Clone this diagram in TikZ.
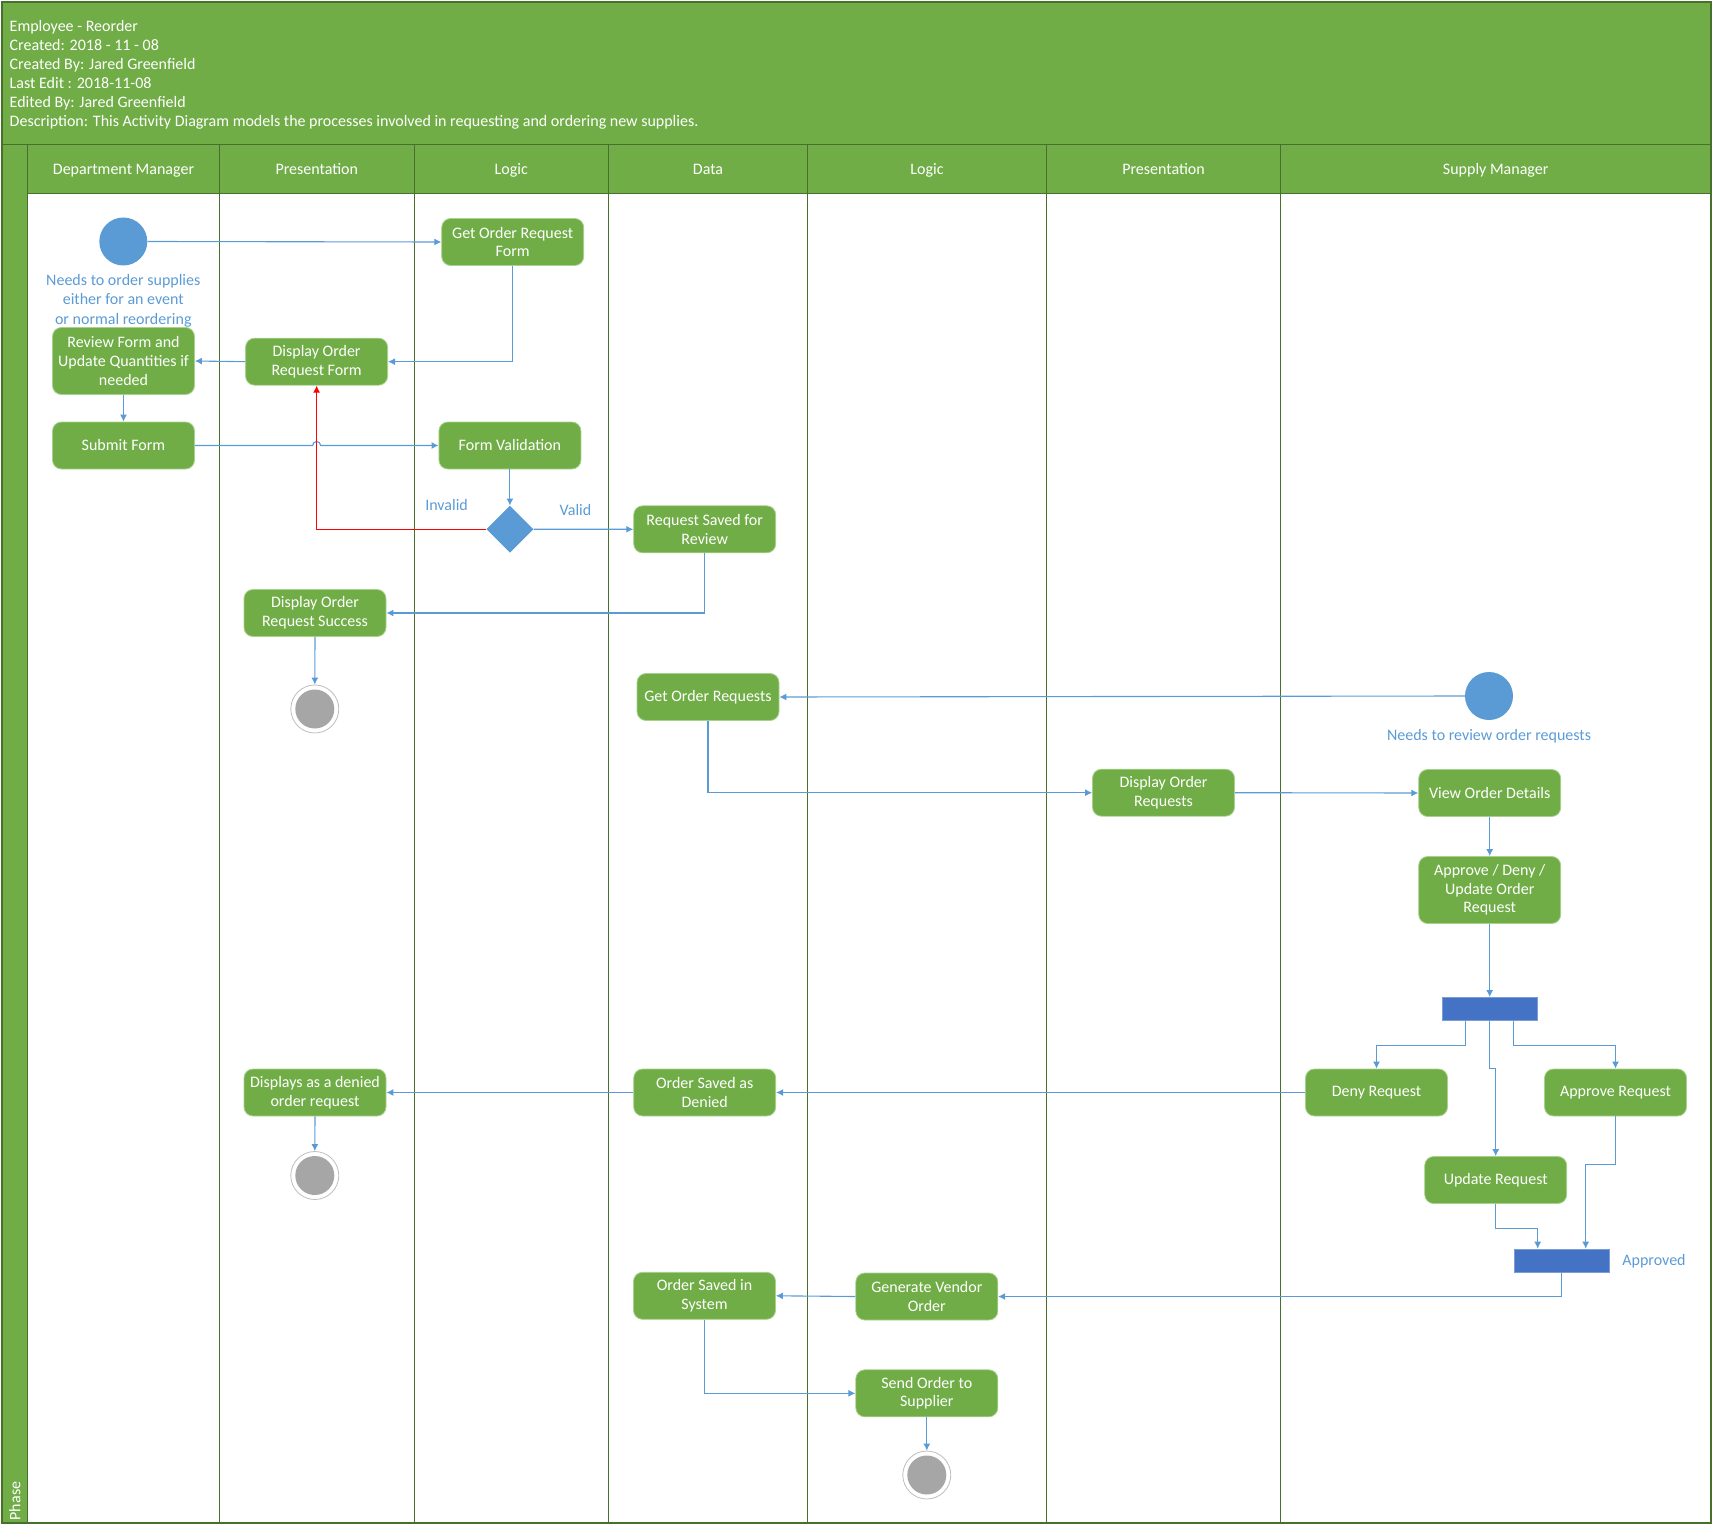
\documentclass[tikz,border=0pt]{standalone}
\usepackage{fontspec}
\setmainfont{Carlito}
\usetikzlibrary{arrows.meta,shapes.geometric}

\definecolor{laneGreen}{RGB}{112,173,71}
\definecolor{laneLine}{RGB}{72,112,45}
\definecolor{boxEdge}{RGB}{169,209,142}
\definecolor{flowBlue}{RGB}{91,155,213}
\definecolor{barBlue}{RGB}{68,114,196}
\definecolor{endGray}{RGB}{166,166,166}
\definecolor{endRing}{RGB}{190,190,190}
\definecolor{backRed}{RGB}{255,0,0}

\tikzset{
  every node/.style={font=\fontsize{16}{18.6}\selectfont},
  activity/.style={rectangle, rounded corners=9pt, fill=laneGreen, draw=boxEdge,
    line width=0.8pt, text=white, align=center, minimum width=142, minimum height=47,
    inner sep=2pt},
  tallactivity/.style={activity, minimum height=67},
  startnode/.style={circle, fill=flowBlue, minimum size=48, inner sep=0pt},
  endnode/.style={circle, draw=endRing, line width=0.8pt, fill=white, minimum size=48,
    inner sep=0pt, path picture={\fill[endGray] (path picture bounding box.center) circle (19.5pt);}},
  decision/.style={diamond, fill=flowBlue, minimum width=47, minimum height=47, inner sep=0pt},
  bar/.style={rectangle, fill=barBlue, draw=barBlue!70!white, line width=0.6pt,
    minimum width=95, minimum height=23, inner sep=0pt},
  note/.style={text=flowBlue, align=center, font=\fontsize{16}{19.5}\selectfont},
  lanetitle/.style={text=white, anchor=base},
  hdrline/.style={text=white, anchor=base west, inner sep=0pt},
  flow/.style={draw=flowBlue, line width=1.1pt, -{Latex[length=7pt,width=7pt]}},
  lane/.style={draw=laneLine, line width=1pt}
}

\begin{document}
\begin{tikzpicture}[x=1pt,y=-1pt]
\useasboundingbox (0,0) rectangle (1713,1530);

% title block, lane header row and phase column
\fill[laneGreen] (2,2) rectangle (1711,193.5);
\fill[laneGreen] (3,145) rectangle (27.3,1523);
\draw[lane] (2,145) -- (1711,145);
\draw[lane] (27.3,193.5) -- (1711,193.5);
\foreach \lx in {27.3,219.6,414,608.5,807.4,1046.6,1280.4}
  \draw[lane] (\lx,145) -- (\lx,1523);
\draw[lane, line width=1.3pt] (2,2) rectangle (1711,1523);

% title block text
\node[hdrline] (hdr1) at (9.5,32) {Employee - Reorder};
\node[hdrline] (hdr2) at (9.5,51) {Created: 2018 - 11 - 08};
\node[hdrline] (hdr3) at (9.5,70) {Created By: Jared Greenfield};
\node[hdrline] (hdr4) at (9.5,89) {Last Edit : 2018-11-08};
\node[hdrline] (hdr5) at (9.5,108) {Edited By: Jared Greenfield};
\node[hdrline] (hdr6) at (9.5,127) {Description: This Activity Diagram models the processes involved in requesting and ordering new supplies.};

% lane titles
\node[lanetitle] (laneA) at (123.5,174.5) {Department Manager};
\node[lanetitle] (laneB) at (316.8,174.5) {Presentation};
\node[lanetitle] (laneC) at (511.3,174.5) {Logic};
\node[lanetitle] (laneD) at (708,174.5) {Data};
\node[lanetitle] (laneE) at (927,174.5) {Logic};
\node[lanetitle] (laneF) at (1163.5,174.5) {Presentation};
\node[lanetitle] (laneG) at (1495.7,174.5) {Supply Manager};
\node[text=white, rotate=90] (phase) at (15,1501) {Phase};

% request flow
\node[startnode] (start1) at (123.3,241.5) {};
\node[note] (start1lbl) at (123.3,300.5) {Needs to order supplies\\either for an event\\or normal reordering};
\node[activity] (getform) at (512.7,242) {Get Order Request\\Form};
\node[tallactivity] (review) at (123.5,361) {Review Form and\\Update Quantities if\\needed};
\node[activity] (dispform) at (316.6,361.7) {Display Order\\Request Form};
\node[activity] (submit) at (123.5,445.5) {Submit Form};
\node[activity] (formval) at (509.9,445.5) {Form Validation};
\node[decision] (check) at (509.9,529.2) {};
\node[note] (invalid) at (446.6,505.5) {Invalid};
\node[note] (valid) at (575.5,510.5) {Valid};
\node[activity] (reqsaved) at (704.7,529.3) {Request Saved for\\Review};
\node[activity] (success) at (315,613) {Display Order\\Request Success};
\node[endnode] (end1) at (314.8,709) {};

% review flow
\node[startnode] (start2) at (1489,696) {};
\node[note] (start2lbl) at (1489,736.5) {Needs to review order requests};
\node[activity] (getreqs) at (708,697) {Get Order Requests};
\node[activity] (disreqs) at (1163.5,792.7) {Display Order\\Requests};
\node[activity] (view) at (1489.7,793) {View Order Details};
\node[tallactivity] (decide) at (1489.7,890) {Approve / Deny /\\Update Order\\Request};
\node[bar] (fork) at (1489.7,1008.8) {};
\node[activity] (deny) at (1376.5,1092.5) {Deny Request};
\node[activity] (approve) at (1615.5,1092.5) {Approve Request};
\node[activity] (update) at (1495.7,1180) {Update Request};
\node[bar] (join) at (1561.7,1260.5) {};
\node[note] (approved) at (1654,1261) {Approved};
\node[activity] (denied) at (704.7,1092.5) {Order Saved as\\Denied};
\node[activity] (dispdenied) at (315,1092.5) {Displays as a denied\\order request};
\node[endnode] (end2) at (314.8,1175.5) {};
\node[activity] (saved) at (704.5,1295.8) {Order Saved in\\System};
\node[activity] (vendor) at (926.8,1296.5) {Generate Vendor\\Order};
\node[activity] (send) at (926.8,1393.3) {Send Order to\\Supplier};
\node[endnode] (end3) at (926.8,1475) {};

% connectors: request flow
\draw[flow] (start1.east) -- (getform.west);
\draw[flow] (getform.south) |- (dispform.east);
\draw[flow] (dispform.west) -- (review.east);
\draw[flow] (review.south) -- (submit.north);
\draw[flow] (submit.east) -- ([xshift=-4pt]submit.east -| dispform.south)
  arc[start angle=180, end angle=0, radius=4pt] -- (formval.west);
\draw[flow] (formval.south) -- (check.north);
\draw[flow, draw=backRed, -{Latex[length=7pt,width=7pt,fill=backRed]}] (check.west) -| (dispform.south);
\draw[flow] (check.east) -- (reqsaved.west);
\draw[flow] (reqsaved.south) |- (success.east);
\draw[flow] (success.south) -- (end1.north);

% connectors: review flow
\draw[flow] (start2.west) -- (getreqs.east);
\draw[flow] (getreqs.south) |- (disreqs.west);
\draw[flow] (disreqs.east) -- (view.west);
\draw[flow] (view.south) -- (decide.north);
\draw[flow] (decide.south) -- (fork.north);
\draw[flow] ([xshift=-24pt]fork.south) -- ++(0,25) -| (deny.north);
\draw[flow] (fork.south) -- ++(0,48) -| (update.north);
\draw[flow] ([xshift=24pt]fork.south) -- ++(0,25) -| (approve.north);
\draw[flow] (approve.south) -- ++(0,48.5) -| ([xshift=24pt]join.north);
\draw[flow] (update.south) -- ++(0,24.5) -| ([xshift=-24pt]join.north);
\draw[flow] (join.south) |- (vendor.east);
\draw[flow] (vendor.west) -- (saved.east);
\draw[flow] (saved.south) |- (send.west);
\draw[flow] (send.south) -- (end3.north);
\draw[flow] (deny.west) -- (denied.east);
\draw[flow] (denied.west) -- (dispdenied.east);
\draw[flow] (dispdenied.south) -- (end2.north);
\end{tikzpicture}
\end{document}
